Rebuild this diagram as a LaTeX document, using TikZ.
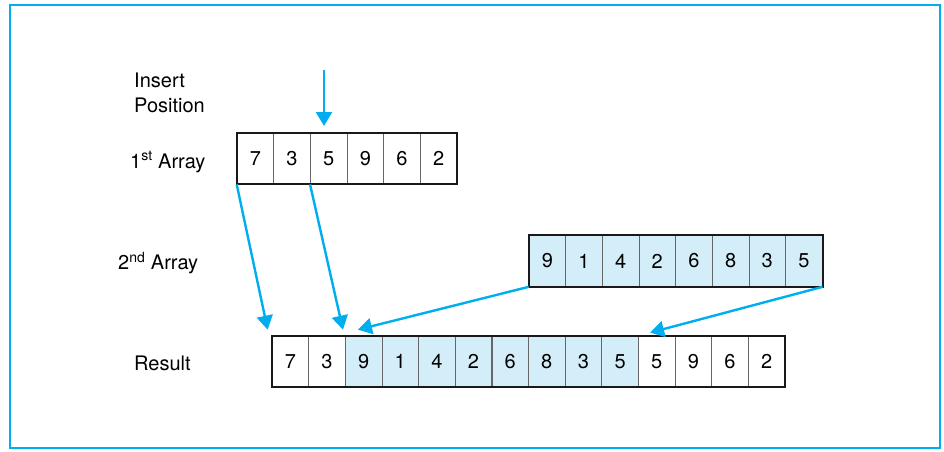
\documentclass[tikz,border=0pt]{standalone}
\usepackage{fontspec}
\setmainfont{TeX Gyre Heros}
\usetikzlibrary{arrows.meta,calc}
\definecolor{cy}{HTML}{00AEEF}
\definecolor{lb}{HTML}{D4EEF9}
\tikzset{
  cell/.style={draw=black!60, line width=0.7pt, minimum width=36.6pt, minimum height=51pt, inner sep=0pt, font=\fontsize{20}{23}\selectfont, anchor=center},
  hl/.style={fill=lb},
  outer/.style={draw=black!90, line width=2pt},
  arr/.style={draw=cy, line width=2.4pt, -{Triangle[width=16pt,length=14pt]}},
  lbl/.style={font=\fontsize{20}{24.5}\selectfont, anchor=west, inner sep=0pt, align=left}
}
\begin{document}
\begin{tikzpicture}[x=1pt,y=-1pt]
\useasboundingbox (0,0) rectangle (944,451);
\draw[draw=cy, line width=2.2pt] (10,5) rectangle (940,448);
% labels
\node[lbl, anchor=north west] (ip) at (134,73) {Insert\\Position};
\node[lbl] (l1) at (130,162) {1\textsuperscript{st} Array};
\node[lbl] (l2) at (118,263) {2\textsuperscript{nd} Array};
\node[lbl] (l3) at (134,363) {Result};
% 1st array
\foreach \v [count=\i] in {7,3,5,9,6,2}
  \node[cell] (a\i) at ({237+36.67*(\i-0.5)},158.5) {\v};
\draw[outer] (a1.north west) rectangle (a6.south east);
% 2nd array
\foreach \v [count=\i] in {9,1,4,2,6,8,3,5}
  \node[cell,hl] (b\i) at ({529+36.65*(\i-0.5)},261) {\v};
\draw[outer] (b1.north west) rectangle (b8.south east);
% result
\foreach \v [count=\i] in {7,3}
  \node[cell] (r\i) at ({272+36.64*(\i-0.5)},361.5) {\v};
\foreach \v [count=\j from 3] in {9,1,4,2,6,8,3,5}
  \node[cell,hl] (r\j) at ({272+36.64*(\j-0.5)},361.5) {\v};
\foreach \v [count=\j from 11] in {5,9,6,2}
  \node[cell] (r\j) at ({272+36.64*(\j-0.5)},361.5) {\v};
\draw[outer] (r1.north west) rectangle (r14.south east);
% arrows
\coordinate (ins) at (324,70);
\coordinate (t0) at (324,126);
\coordinate (t1) at ($(r1.north west)+(-4,-6)$);
\coordinate (t2) at ($(r3.north west)+(-2,-6)$);
\coordinate (t3) at ($(r3.north west)+(13,-6)$);
\coordinate (t4) at ($(r11.north west)+(12,-3)$);
\draw[arr] (ins) -- (t0);
\draw[arr] (a1.south west) -- (t1);
\draw[arr] (a3.south west) -- (t2);
\draw[arr] (b1.south west) -- (t3);
\draw[arr] (b8.south east) -- (t4);
\end{tikzpicture}
\end{document}
